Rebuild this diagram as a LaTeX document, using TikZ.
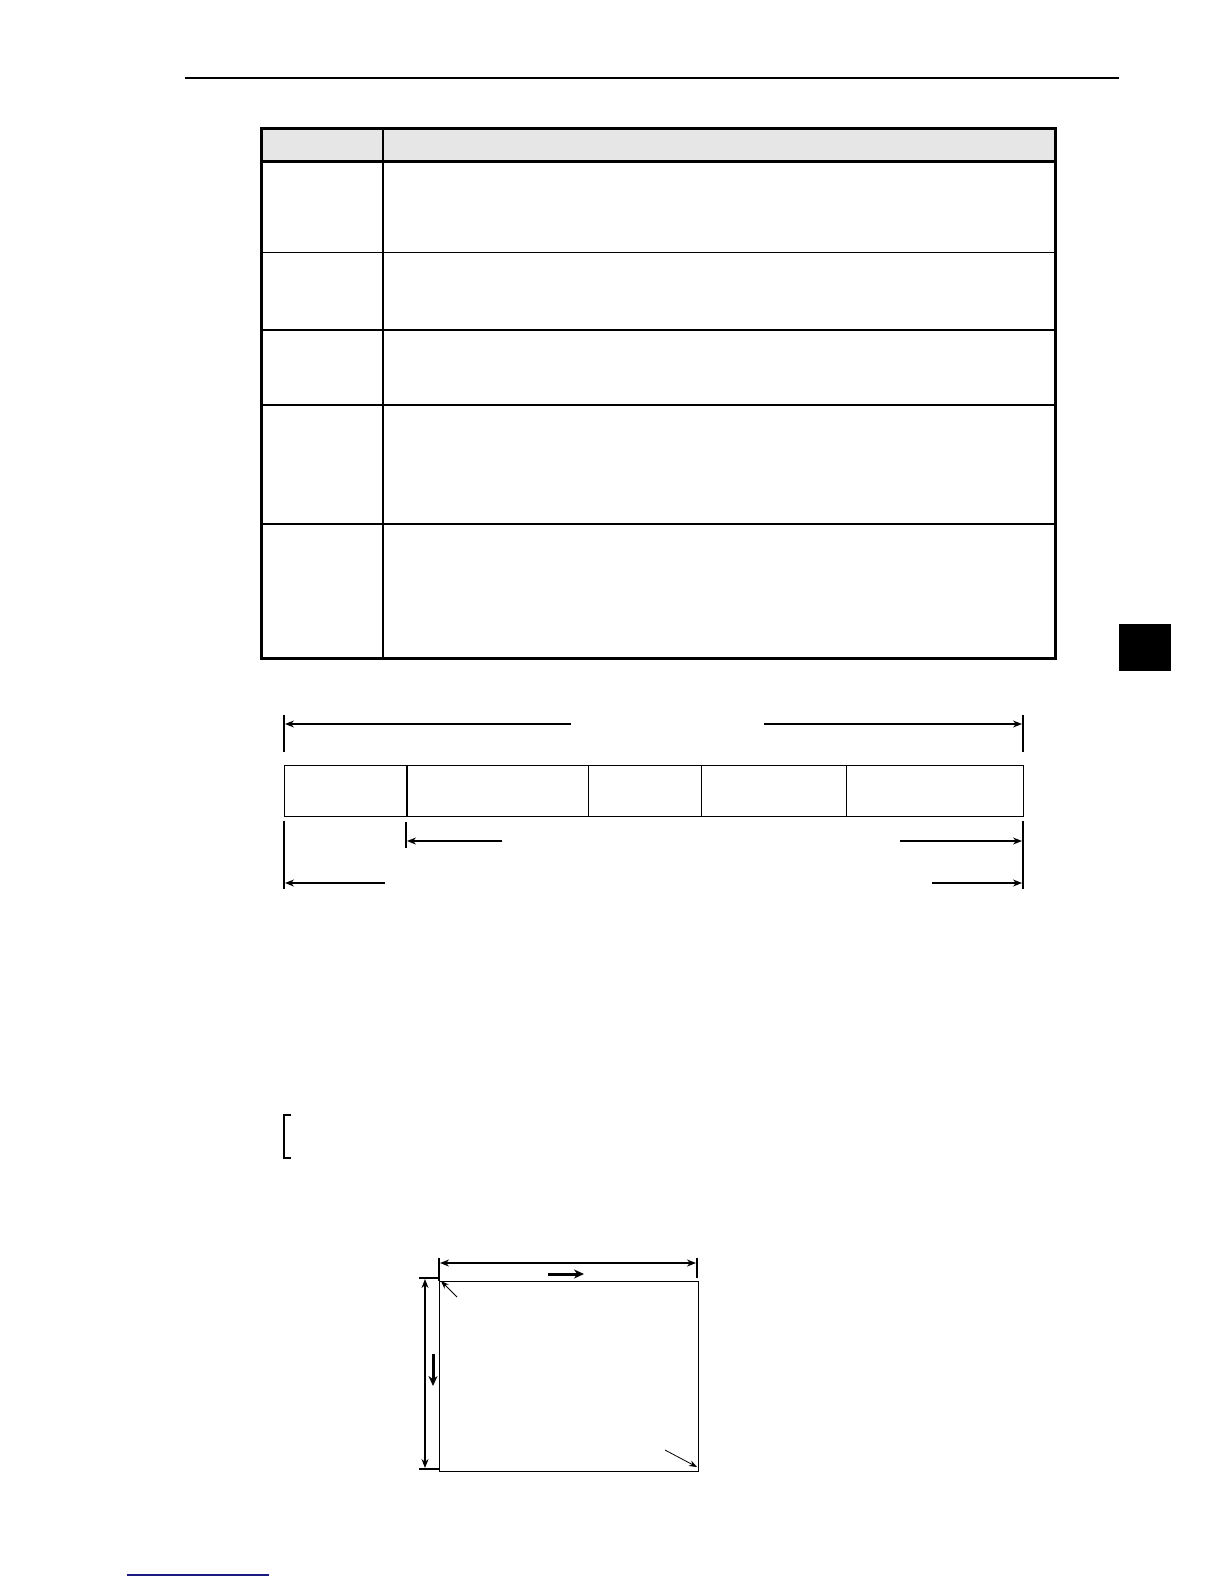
\documentclass[tikz,border=0pt]{standalone}
\usetikzlibrary{arrows.meta}
\definecolor{hdrgray}{HTML}{E6E6E6}
\definecolor{navyline}{HTML}{1A1A80}
\tikzset{
  thinln/.style={line width=0.6pt},
  thickln/.style={line width=1.5pt},
  dimarrow/.style={line width=0.6pt,-{Stealth[length=4.5pt,width=3.5pt]}},
  boldarrow/.style={line width=1.5pt,-{Stealth[length=5pt,width=4.5pt]}},
  fine/.style={line width=0.4pt,-{Stealth[length=4pt,width=3pt]}},
  cell/.style={draw,line width=0.7pt,inner sep=0pt,anchor=north west}
}
\begin{document}
\begin{tikzpicture}[x=0.5pt,y=-0.5pt]
\useasboundingbox (0,0) rectangle (1224,1584);
% header rule
\draw[thinln] (185,78) -- (1119,78);
% table
\fill[hdrgray] (261,129) rectangle (1055,161);
\foreach \yy in {252.5,330,405,524} \draw[line width=0.8pt] (261,\yy) -- (1055,\yy);
\draw[line width=0.8pt] (383,129) -- (383,658);
\draw[thickln] (261,161) -- (1055,161);
\draw[thickln] (261,129) rectangle (1055,658);
% side tab
\fill[black] (1119,624) rectangle (1171,671);
% dimension figure
\coordinate (tl) at (284,764.5);
\node[cell,minimum width=123pt*0.5,minimum height=51.5pt*0.5] (c1) at (284,764.5) {};
\node[cell,minimum width=181pt*0.5,minimum height=51.5pt*0.5] (c2) at (407,764.5) {};
\node[cell,minimum width=113pt*0.5,minimum height=51.5pt*0.5] (c3) at (588,764.5) {};
\node[cell,minimum width=145pt*0.5,minimum height=51.5pt*0.5] (c4) at (701,764.5) {};
\node[cell,minimum width=177pt*0.5,minimum height=51.5pt*0.5] (c5) at (846,764.5) {};
\draw[line width=1.3pt] (407,764.5) -- (407,816);
% extension lines
\draw[thinln] (284,715) -- (284,752);
\draw[thinln] (1023,715) -- (1023,752);
\draw[thinln] (284,821) -- (284,889);
\draw[thinln] (1023,821) -- (1023,889);
\draw[line width=1.2pt] (406,822) -- (406,848);
% dimension arrows
\coordinate (d1a) at (571,724); \coordinate (d1l) at (285,724);
\coordinate (d1b) at (764,724); \coordinate (d1r) at (1022,724);
\draw[dimarrow] (d1a) -- (d1l);
\draw[dimarrow] (d1b) -- (d1r);
\coordinate (d2a) at (502,841); \coordinate (d2l) at (407,841);
\coordinate (d2b) at (900,841); \coordinate (d2r) at (1022,841);
\draw[dimarrow] (d2a) -- (d2l);
\draw[dimarrow] (d2b) -- (d2r);
\coordinate (d3a) at (385,883); \coordinate (d3l) at (285,883);
\coordinate (d3b) at (932,883); \coordinate (d3r) at (1022,883);
\draw[dimarrow] (d3a) -- (d3l);
\draw[dimarrow] (d3b) -- (d3r);
% bracket
\draw[thinln] (291,1115) -- (284,1115) -- (284,1158) -- (291,1158);
% screen figure
\node[draw,line width=0.7pt,inner sep=0pt,anchor=north west,minimum width=259pt*0.5,minimum height=190pt*0.5] (scr) at (439,1281) {};
\draw[thinln] (439,1258) -- (439,1281);
\draw[thinln] (697,1258) -- (697,1278);
\draw[thinln] (419,1278) -- (439,1278);
\draw[thinln] (419,1469) -- (439,1469);
\coordinate (hx1) at (440,1263); \coordinate (hx2) at (696,1263);
\draw[dimarrow,{Stealth[length=4.5pt,width=3.5pt]}-{Stealth[length=4.5pt,width=3.5pt]}] (hx1) -- (hx2);
\coordinate (vy1) at (425,1279); \coordinate (vy2) at (425,1468);
\draw[dimarrow,{Stealth[length=4.5pt,width=3.5pt]}-{Stealth[length=4.5pt,width=3.5pt]}] (vy1) -- (vy2);
\coordinate (ba1) at (548,1274); \coordinate (ba2) at (584,1274);
\draw[boldarrow] (ba1) -- (ba2);
\coordinate (bb1) at (433,1354); \coordinate (bb2) at (433,1386);
\draw[boldarrow] (bb1) -- (bb2);
\coordinate (o1) at (457,1297); \coordinate (o2) at (441,1281);
\draw[fine] (o1) -- (o2);
\coordinate (e1) at (665,1450); \coordinate (e2) at (697,1467);
\draw[fine] (e1) -- (e2);
% footer link line
\draw[navyline,line width=0.6pt] (127,1575) -- (269,1575);
\end{tikzpicture}
\end{document}
